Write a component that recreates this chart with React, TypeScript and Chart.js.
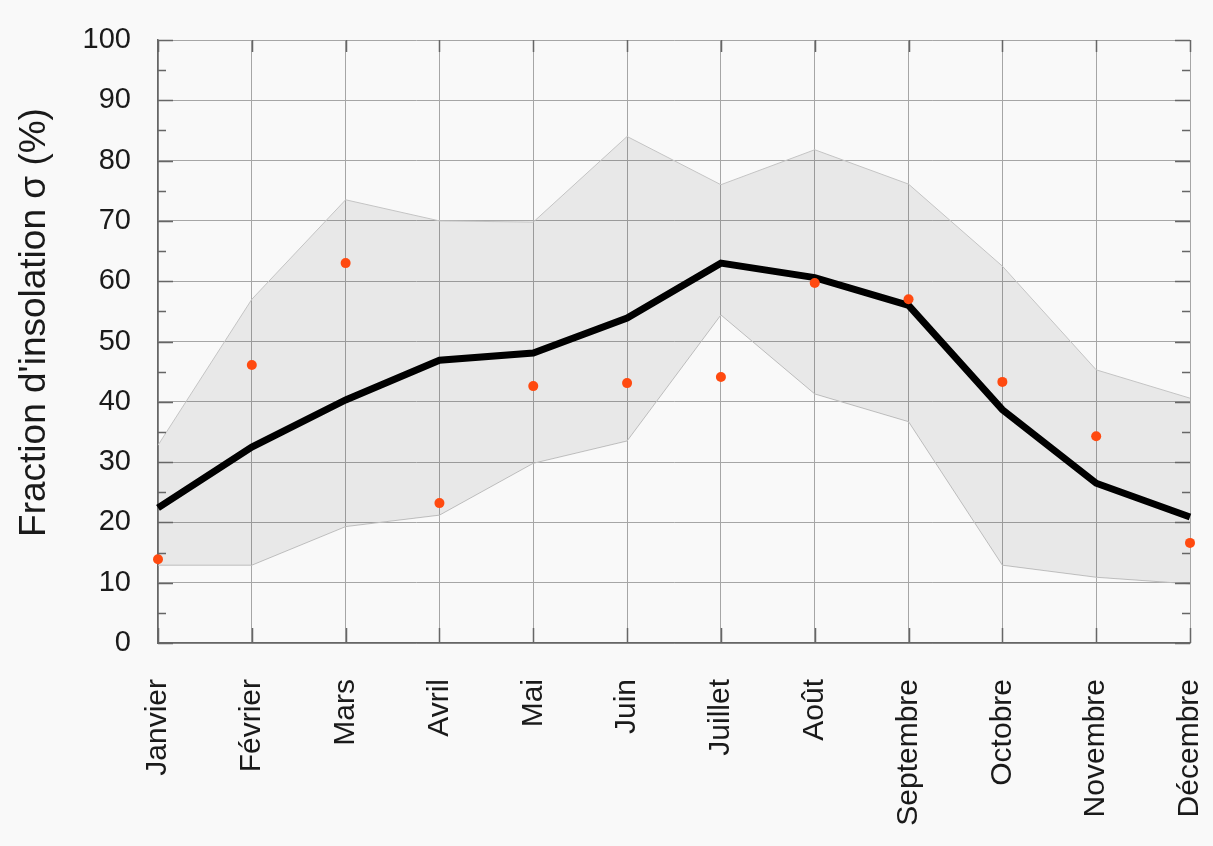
import React, { useEffect, useRef } from "react";
import { Chart, registerables } from "chart.js";

Chart.register(...registerables);

const months = [
  "Janvier", "Février", "Mars", "Avril", "Mai", "Juin",
  "Juillet", "Août", "Septembre", "Octobre", "Novembre", "Décembre",
];

// Mean sunshine fraction (black line)
const meanValues = [22.4, 32.5, 40.3, 46.9, 48.1, 53.9, 63.0, 60.6, 56.0, 38.7, 26.5, 20.9];
// Individual year values (orange-red points)
const yearValues = [13.9, 46.1, 63.0, 23.2, 42.6, 43.1, 44.1, 59.7, 57.0, 43.3, 34.3, 16.6];
// Envelope max / min (grey band)
const upperValues = [32.8, 57.0, 73.5, 70.0, 69.8, 84.0, 76.0, 81.8, 76.1, 62.5, 45.3, 40.6];
const lowerValues = [12.9, 12.9, 19.3, 21.2, 29.8, 33.5, 54.4, 41.3, 36.7, 12.9, 10.9, 9.8];

const yTicks = [0, 10, 20, 30, 40, 50, 60, 70, 80, 90, 100];
const yMinorStep = 5;
const yTitle = "Fraction d'insolation σ (%)";

const FONT = "'Liberation Sans', Arial, sans-serif";

const bgPlugin = {
  id: "bgFill",
  beforeDraw(chart: any) {
    const ctx = chart.ctx;
    ctx.save();
    ctx.fillStyle = "#f9f9f9";
    ctx.fillRect(0, 0, chart.width, chart.height);
    ctx.restore();
  },
};

const yTitlePlugin = {
  id: "yTitle",
  afterDraw(chart: any) {
    const { ctx, chartArea } = chart;
    ctx.save();
    ctx.translate(35, (chartArea.top + chartArea.bottom) / 2 - 19);
    ctx.rotate(-Math.PI / 2);
    ctx.fillStyle = "#1a1a1a";
    ctx.font = `37px ${FONT}`;
    ctx.textAlign = "center";
    ctx.textBaseline = "middle";
    ctx.fillText(yTitle, 0, 0);
    ctx.restore();
  },
};

const innerTicksPlugin = {
  id: "innerTicks",
  afterDraw(chart: any) {
    const { ctx, chartArea } = chart;
    const x = chart.scales.x;
    const y = chart.scales.y;
    ctx.save();
    ctx.strokeStyle = "#666666";
    ctx.lineWidth = 1.5;
    ctx.beginPath();
    for (let v = 0; v <= 100; v += yMinorStep) {
      const len = v % 10 === 0 ? 15 : 8;
      const py = Math.round(y.getPixelForValue(v)) + 0.5;
      ctx.moveTo(chartArea.left, py);
      ctx.lineTo(chartArea.left + len, py);
      ctx.moveTo(chartArea.right, py);
      ctx.lineTo(chartArea.right - len, py);
    }
    for (let i = 0; i < months.length; i++) {
      const px = Math.round(x.getPixelForValue(i)) + 0.5;
      ctx.moveTo(px, chartArea.bottom);
      ctx.lineTo(px, chartArea.bottom - 15);
      ctx.moveTo(px, chartArea.top);
      ctx.lineTo(px, chartArea.top + 12);
    }
    ctx.stroke();
    ctx.restore();
  },
};

export default function App() {
  const ref = useRef<HTMLCanvasElement | null>(null);

  useEffect(() => {
    if (!ref.current) return;
    const chart = new Chart(ref.current, {
      type: "line",
      data: {
        labels: months,
        datasets: [
          {
            label: "points",
            data: yearValues,
            showLine: false,
            pointRadius: 5,
            pointBackgroundColor: "#ff4a10",
            pointBorderColor: "#ff4a10",
            pointBorderWidth: 0,
            order: 0,
          },
          {
            label: "moyenne",
            data: meanValues,
            borderColor: "#000000",
            borderWidth: 7,
            pointRadius: 0,
            tension: 0,
            fill: false,
            order: 1,
          },
          {
            label: "min",
            data: lowerValues,
            borderColor: "#c4c4c4",
            borderWidth: 1,
            pointRadius: 0,
            fill: false,
            order: 3,
          },
          {
            label: "max",
            data: upperValues,
            borderColor: "#c4c4c4",
            borderWidth: 1,
            pointRadius: 0,
            fill: "-1",
            backgroundColor: "rgba(0,0,0,0.065)",
            order: 2,
          },
        ],
      },
      options: {
        animation: false,
        responsive: false,
        maintainAspectRatio: false,
        layout: { padding: { top: 40, right: 23, left: 0, bottom: 0 } },
        plugins: {
          legend: { display: false },
          tooltip: { enabled: false },
        },
        scales: {
          x: {
            offset: false,
            grid: { color: "#a6a6a6", lineWidth: 1, drawTicks: false },
            border: { color: "#666666", width: 1.5 },
            ticks: {
              autoSkip: false,
              minRotation: 90,
              maxRotation: 90,
              padding: 36,
              color: "#1a1a1a",
              font: { family: FONT, size: 30 },
            },
            afterFit(scale: any) {
              scale.height = 203;
              scale.paddingLeft = 0;
              scale.paddingRight = 0;
            },
          },
          y: {
            min: 0,
            max: 100,
            afterBuildTicks(scale: any) {
              scale.ticks = yTicks.map((v) => ({ value: v }));
            },
            grid: { color: "#a6a6a6", lineWidth: 1, drawTicks: false },
            border: { color: "#666666", width: 1.5 },
            ticks: {
              padding: 27,
              color: "#1a1a1a",
              font: { family: FONT, size: 29 },
            },
            afterFit(scale: any) {
              scale.width = 158;
              scale.paddingTop = 0;
              scale.paddingBottom = 0;
            },
          },
        },
      },
      plugins: [bgPlugin, innerTicksPlugin, yTitlePlugin],
    });
    return () => chart.destroy();
  }, []);

  return (
    <div style={{ position: "fixed", left: 0, top: 0, width: 1213, height: 846 }}>
      <canvas ref={ref} width={1213} height={846} style={{ width: 1213, height: 846, display: "block" }} />
    </div>
  );
}
